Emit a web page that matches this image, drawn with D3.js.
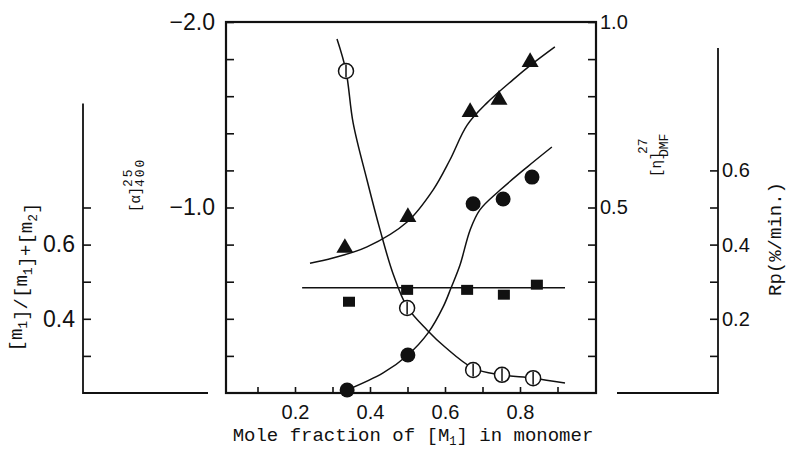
<!DOCTYPE html>
<html>
<head>
<meta charset="utf-8">
<script src="https://cdn.jsdelivr.net/npm/d3@7"></script>
<style>
  body { margin: 0; background: #fff; }
  svg { display: block; }
  .tick text { font-family: 'Liberation Sans', Arial, sans-serif; fill: #111; }
  .title { font-family: 'Liberation Mono', 'Courier New', monospace; fill: #111; }
</style>
</head>
<body>
<svg id="chart" width="786" height="453"></svg>
<script>
// --- data ---
const xTicks = [0.1, 0.2, 0.3, 0.4, 0.5, 0.6, 0.7, 0.8, 0.9]
const xLabels = [0.2, 0.4, 0.6, 0.8]
const alphaTicks = [-0.2, -0.4, -0.6, -0.8, -1.0, -1.2, -1.4, -1.6, -1.8, -2.0]
const alphaLabels = [-1.0, -2.0]
const etaTicks = [0.1, 0.2, 0.3, 0.4, 0.5, 0.6, 0.7, 0.8, 0.9, 1.0]
const etaLabels = [0.5, 1.0]
const compTicks = [0.3, 0.4, 0.5, 0.6, 0.7]
const compLabels = [0.4, 0.6]
const compTop = 0.98
const rpTicks = [0.1, 0.2, 0.3, 0.4, 0.5, 0.6]
const rpLabels = [0.2, 0.4, 0.6]
const rpTop = 0.93

// triangles: [η] (DMF, 27 °C)
const etaX = [0.333, 0.501, 0.667, 0.744, 0.827]
const etaValues = [0.391, 0.474, 0.757, 0.790, 0.892]
const etaCurve = [[0.24, 0.350], [0.301, 0.364], [0.392, 0.394], [0.499, 0.461], [0.568, 0.547], [0.613, 0.628],
  [0.659, 0.722], [0.712, 0.782], [0.781, 0.844], [0.835, 0.889], [0.893, 0.933]]

// filled circles: [α]
const alphaX = [0.339, 0.501, 0.675, 0.755, 0.832]
const alphaValues = [-0.016, -0.205, -1.02, -1.046, -1.164]
const alphaCurve = [[0.339, -0.016], [0.435, -0.108], [0.501, -0.205], [0.555, -0.324], [0.595, -0.464], [0.616, -0.566],
  [0.640, -0.690], [0.667, -0.879], [0.693, -0.987], [0.747, -1.094], [0.819, -1.218], [0.885, -1.326]]

// open circles: Rp
const rpX = [0.336, 0.499, 0.675, 0.752, 0.835]
const rpValues = [0.868, 0.229, 0.062, 0.049, 0.040]
const rpCurve = [[0.312, 0.954], [0.336, 0.868], [0.355, 0.728], [0.392, 0.574], [0.427, 0.439], [0.461, 0.323],
  [0.499, 0.232], [0.552, 0.170], [0.60, 0.124], [0.675, 0.067], [0.747, 0.049], [0.835, 0.040], [0.92, 0.027]]

// squares: copolymer composition
const compX = [0.344, 0.499, 0.659, 0.757, 0.845]
const compValues = [0.446, 0.478, 0.478, 0.465, 0.492]
const compLine = [[0.219, 0.484], [0.92, 0.484]]

// --- layout ---
const box = { left: 226, right: 596, top: 22, bottom: 393 }
const svg = d3.select('#chart')

const x = d3.scaleLinear().domain([0, 1]).range([220, 595])
const yAlpha = d3.scaleLinear().domain([0, -2]).range([box.bottom, box.top])
const yEta = d3.scaleLinear().domain([0, 1]).range([box.bottom, box.top])
const yRp = d3.scaleLinear().domain([0, 1]).range([box.bottom, box.top])
const yComp = d3.scaleLinear().domain([0.2, 1.2]).range([box.bottom, box.top])

const fmt = labels => d => labels.includes(d) ? d.toFixed(1) : ''
const fmtNeg = labels => d => labels.includes(d) ? '\u2212' + Math.abs(d).toFixed(1) : ''

function styleAxis (g, size) {
  g.select('.domain').remove()
  g.selectAll('.tick line').attr('stroke', '#111').attr('stroke-width', 1.6)
  g.selectAll('.tick text').attr('font-size', size)
}

// main frame
svg.append('rect')
  .attr('x', box.left)
  .attr('y', box.top)
  .attr('width', box.right - box.left)
  .attr('height', box.bottom - box.top)
  .attr('fill', 'none')
  .attr('stroke', '#111')
  .attr('stroke-width', 2.2)

svg.append('g')
  .attr('transform', `translate(0, ${box.bottom})`)
  .call(d3.axisBottom(x).tickValues(xTicks).tickSize(-6).tickPadding(12).tickFormat(fmt(xLabels)))
  .call(g => styleAxis(g, 20))

svg.append('g')
  .attr('transform', `translate(${box.left}, 0)`)
  .call(d3.axisLeft(yAlpha).tickValues(alphaTicks).tickSize(-8).tickPadding(11).tickFormat(fmtNeg(alphaLabels)))
  .call(g => styleAxis(g, 23))

svg.append('g')
  .attr('transform', `translate(${box.right}, 0)`)
  .call(d3.axisRight(yEta).tickValues(etaTicks).tickSize(-8).tickPadding(4).tickFormat(fmt(etaLabels)))
  .call(g => styleAxis(g, 20))

// composition axis (far left)
const compAxisX = 83
svg.append('g')
  .attr('transform', `translate(${compAxisX}, 0)`)
  .call(d3.axisLeft(yComp).tickValues(compTicks).tickSize(-8).tickPadding(8).tickFormat(fmt(compLabels)))
  .call(g => styleAxis(g, 23))
svg.append('path')
  .attr('d', `M${compAxisX},${yComp(compTop)}V${yComp(0.2)}H208`)
  .attr('fill', 'none')
  .attr('stroke', '#111')
  .attr('stroke-width', 1.8)

// Rp axis (far right)
const rpAxisX = 718
svg.append('g')
  .attr('transform', `translate(${rpAxisX}, 0)`)
  .call(d3.axisRight(yRp).tickValues(rpTicks).tickSize(-8).tickPadding(4).tickFormat(fmt(rpLabels)))
  .call(g => styleAxis(g, 20))
svg.append('path')
  .attr('d', `M${rpAxisX},${yRp(rpTop)}V${yRp(0)}H617`)
  .attr('fill', 'none')
  .attr('stroke', '#111')
  .attr('stroke-width', 1.8)

// --- curves ---
const curve = (yScale) => d3.line()
  .x(d => x(d[0]))
  .y(d => yScale(d[1]))
  .curve(d3.curveCatmullRom)

const curves = [[etaCurve, yEta], [alphaCurve, yAlpha], [rpCurve, yRp], [compLine, yComp]]
curves.forEach(([pts, yScale]) => {
  svg.append('path')
    .attr('d', curve(yScale)(pts))
    .attr('fill', 'none')
    .attr('stroke', '#111')
    .attr('stroke-width', 1.5)
})

// --- markers ---
svg.append('g')
  .selectAll('path')
  .data(d3.zip(etaX, etaValues))
  .join('path')
  .attr('d', d3.symbol(d3.symbolTriangle, 125))
  .attr('transform', d => `translate(${x(d[0])}, ${yEta(d[1])})`)
  .attr('fill', '#111')

svg.append('g')
  .selectAll('circle')
  .data(d3.zip(alphaX, alphaValues))
  .join('circle')
  .attr('cx', d => x(d[0]))
  .attr('cy', d => yAlpha(d[1]))
  .attr('r', 7.5)
  .attr('fill', '#111')

svg.append('g')
  .selectAll('rect')
  .data(d3.zip(compX, compValues))
  .join('rect')
  .attr('x', d => x(d[0]) - 6)
  .attr('y', d => yComp(d[1]) - 5)
  .attr('width', 12)
  .attr('height', 10)
  .attr('fill', '#111')

const open = svg.append('g')
  .selectAll('g')
  .data(d3.zip(rpX, rpValues))
  .join('g')
  .attr('transform', d => `translate(${x(d[0])}, ${yRp(d[1])})`)
open.append('circle')
  .attr('r', 7.5)
  .attr('fill', '#fff')
  .attr('stroke', '#111')
  .attr('stroke-width', 1.5)
open.append('line')
  .attr('y1', -6.5)
  .attr('y2', 6.5)
  .attr('stroke', '#111')
  .attr('stroke-width', 1.5)

// --- titles ---
const xTitle = svg.append('text')
  .attr('class', 'title')
  .attr('x', 413)
  .attr('y', 441)
  .attr('text-anchor', 'middle')
  .attr('font-size', 19)
xTitle.append('tspan').text('Mole fraction of [M')
xTitle.append('tspan').attr('font-size', 12).attr('dy', 4).text('1')
xTitle.append('tspan').attr('dy', -4).text('] in monomer')

function rotated (px, py, anchor, size) {
  return svg.append('text')
    .attr('class', 'title')
    .attr('transform', `translate(${px}, ${py}) rotate(-90)`)
    .attr('text-anchor', anchor)
    .attr('font-size', size)
}

// [m1]/[m1]+[m2]
const compTitle = rotated(22, 277, 'middle', 19)
const parts = [['[m', '1'], [']/[m', '1'], [']+[m', '2'], [']', null]]
parts.forEach(([main, sub]) => {
  compTitle.append('tspan').text(main)
  if (sub) {
    compTitle.append('tspan').attr('font-size', 13).attr('dy', 5).text(sub)
    compTitle.append('tspan').attr('dy', -5).text('')
  }
})

// [α]^25_400
rotated(140, 212, 'start', 14).text('[\u03b1]')
rotated(132, 187, 'start', 13).attr('letter-spacing', 2).text('25')
rotated(144, 187, 'start', 13).attr('letter-spacing', 2).text('400')

// [η]^27_DMF
rotated(661, 177, 'start', 14).text('[\u03b7]')
rotated(647, 154, 'start', 13).text('27')
rotated(668, 157, 'start', 13).text('DMF')

// Rp(%/min.)
rotated(781, 239, 'middle', 19).text('Rp(%/min.)')
</script>
</body>
</html>
